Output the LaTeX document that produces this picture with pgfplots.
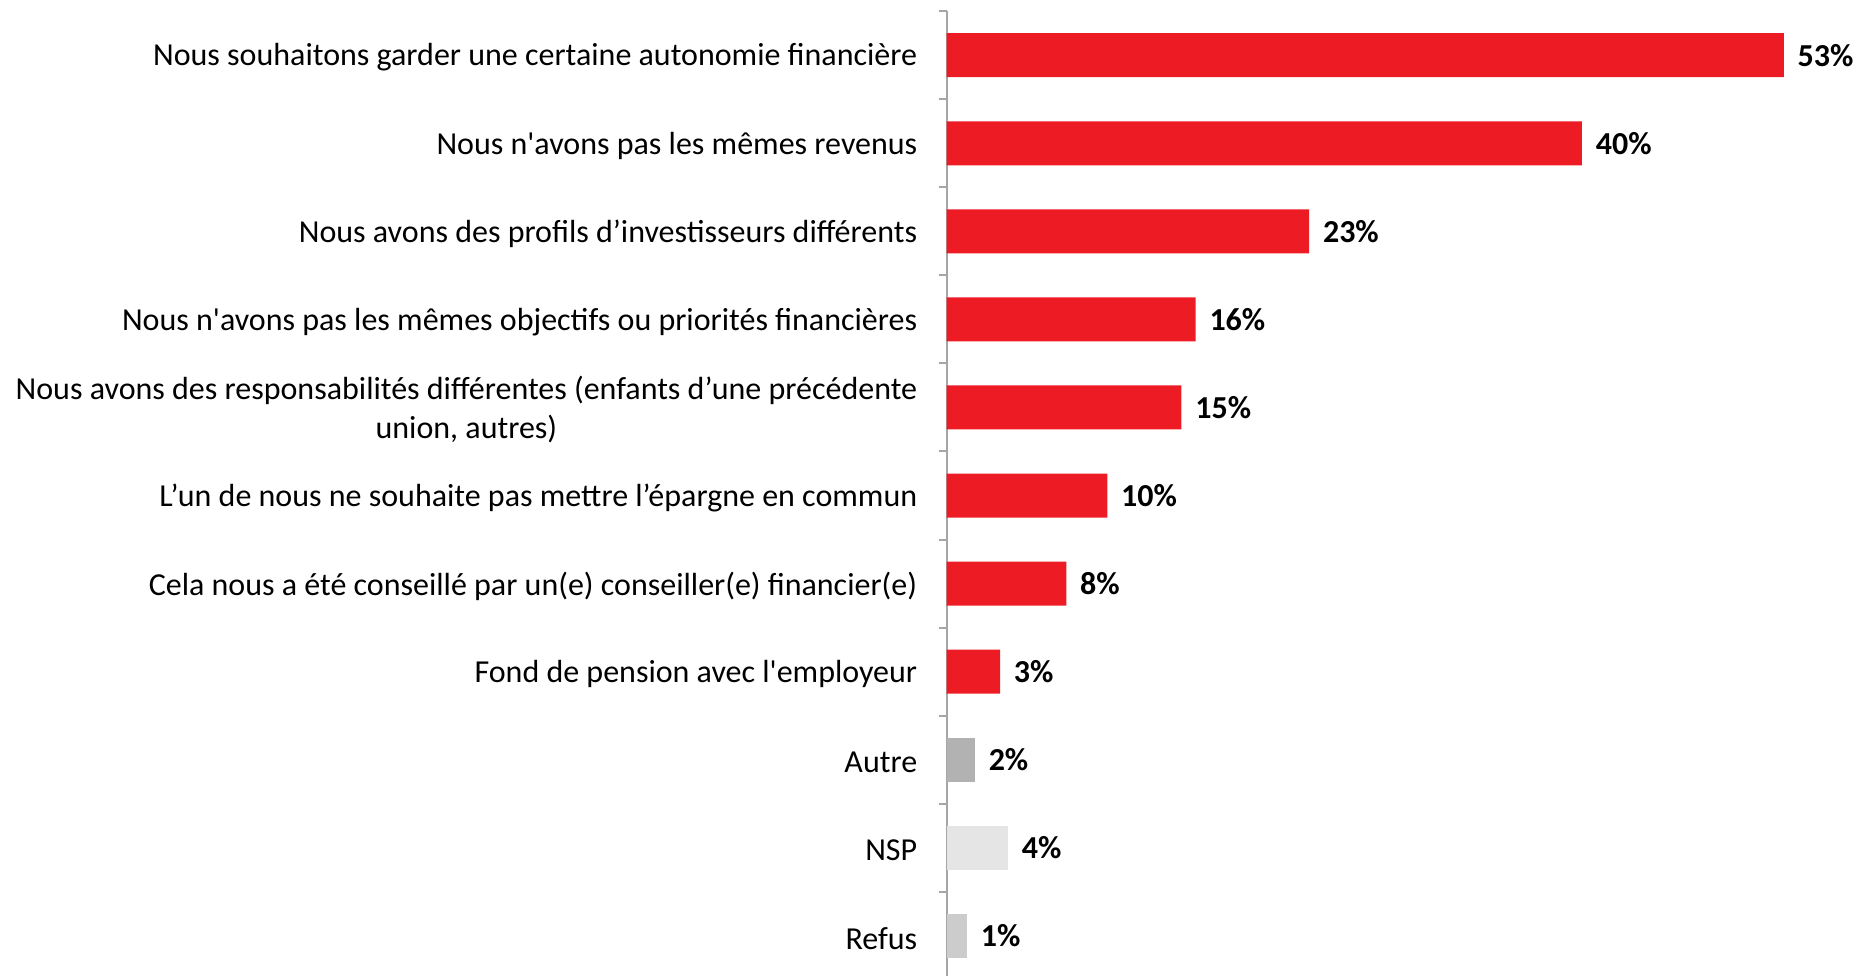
\documentclass[border=0pt]{standalone}
\usepackage{fontspec}
\newfontfamily\calibri{Carlito}
\usepackage{pgfplots}
\pgfplotsset{compat=1.18}
\definecolor{barred}{RGB}{237,28,36}
\definecolor{axisgray}{RGB}{166,166,166}
\definecolor{autregray}{RGB}{178,178,178}
\definecolor{nspgray}{RGB}{229,229,229}
\definecolor{refusgray}{RGB}{204,204,204}

\begin{document}
\calibri\fontsize{12}{14.6}\selectfont
\begin{tikzpicture}
\begin{axis}[
  scale only axis,
  width=342.4pt, height=363.3pt,
  xbar, bar width=16.5pt,
  xmin=0, xmax=57.9,
  ymin=-0.5, ymax=10.5,
  y dir=reverse,
  axis x line=none,
  axis y line=left,
  y axis line style={-, draw=axisgray, line width=0.75pt},
  ytick={0,...,10},
  yticklabels={
    Nous souhaitons garder une certaine autonomie financière,
    Nous n'avons pas les mêmes revenus,
    Nous avons des profils d’investisseurs différents,
    Nous n'avons pas les mêmes objectifs ou priorités financières,
    {Nous avons des responsabilités différentes (enfants d’une précédente\\union, autres)},
    L’un de nous ne souhaite pas mettre l’épargne en commun,
    Cela nous a été conseillé par un(e) conseiller(e) financier(e),
    Fond de pension avec l'employeur,
    Autre,
    NSP,
    Refus
  },
  major tick length=0pt,
  minor ytick={-0.5,0.5,...,9.5},
  minor tick length=3pt,
  tick align=outside,
  minor tick style={draw=axisgray, line width=0.75pt},
  yticklabel style={align=center, font=\calibri\fontsize{12}{14.6}\selectfont, text=black, inner sep=0pt, xshift=-10.8pt, yshift=-0.9pt},
  point meta=explicit symbolic,
  nodes near coords={\pgfplotspointmeta\%},
  nodes near coords align={horizontal},
  every node near coord/.append style={font=\calibri\bfseries\fontsize{12}{14.6}\selectfont, text=black, anchor=west, inner sep=0pt, xshift=5pt},
  clip=false,
]
\addplot[fill=barred, draw=none, bar shift=0pt] coordinates {
  (53.1,0) [53] (40.3,1) [40] (23,2) [23] (15.8,3) [16] (14.9,4) [15]
  (10.2,5) [10] (7.6,6) [8] (3.4,7) [3]
};
\addplot[fill=autregray, draw=none, bar shift=0pt] coordinates {(1.8,8) [2]};
\addplot[fill=nspgray, draw=none, bar shift=0pt] coordinates {(3.9,9) [4]};
\addplot[fill=refusgray, draw=none, bar shift=0pt] coordinates {(1.3,10) [1]};
\end{axis}
\pgfresetboundingbox
\path[use as bounding box] ([shift={(-355pt,4.2pt)}]current axis.north west)
  rectangle ([shift={(0.2pt,1.8pt)}]current axis.south east);
\end{tikzpicture}
\end{document}
